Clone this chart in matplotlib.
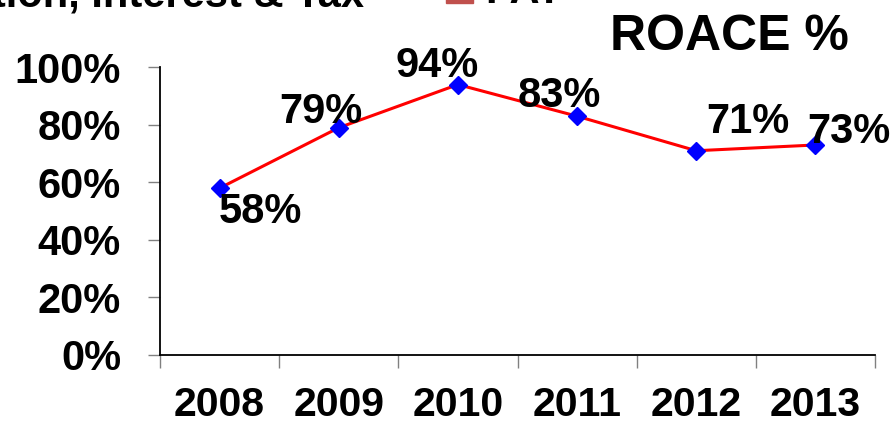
import matplotlib
matplotlib.use("Agg")
import matplotlib.pyplot as plt
from matplotlib.ticker import FixedLocator, PercentFormatter

plt.rcParams['font.family'] = ['Liberation Sans', 'DejaVu Sans']
plt.rcParams['font.weight'] = 'bold'

years = ['2008', '2009', '2010', '2011', '2012', '2013']
roace = [58, 79, 94, 83, 71, 73]
labels = ['58%', '79%', '94%', '83%', '71%', '73%']
# label offsets in pixels (dx, dy) relative to each point
offsets = [(41, -35), (-18, 5), (-21, 8), (-18, 9), (52, 18), (33, 2)]

W, H = 894, 422
fig = plt.figure(figsize=(W / 100, H / 100), dpi=100)
ax = fig.add_axes([160 / W, (H - 355) / H, (875 - 160) / W, (355 - 67.3) / H])

x = range(len(years))
ax.plot(x, roace, color='#FF0000', lw=2.2, marker='D', ms=9,
        mfc='#0000FF', mec='#0000FF', zorder=3, clip_on=False)

for i, (v, lab) in enumerate(zip(roace, labels)):
    ax.annotate(lab, (i, v), xytext=offsets[i], textcoords='offset pixels',
                ha='center', va='baseline', fontsize=30, fontweight='bold')

ax.set_xlim(-0.5, len(years) - 0.5)
ax.set_ylim(0, 100)
ax.yaxis.set_major_locator(FixedLocator([0, 20, 40, 60, 80, 100]))
ax.yaxis.set_major_formatter(PercentFormatter(decimals=0))
ax.set_xticks(list(x))
ax.set_xticklabels(years)
ax.set_xticks([i - 0.5 for i in range(len(years) + 1)], minor=True)

ax.tick_params(axis='x', which='major', length=0, pad=22, labelsize=29.5)
ax.tick_params(axis='x', which='minor', length=9, width=1, color='#808080', direction='out')
ax.tick_params(axis='y', length=9, width=1, color='#808080', direction='out', pad=19, labelsize=30)

for s in ['top', 'right']:
    ax.spines[s].set_visible(False)
for s in ['left', 'bottom']:
    ax.spines[s].set_linewidth(1.3)
    ax.spines[s].set_color('black')

fig.text(610 / W, (H - 50) / H, 'ROACE %', fontsize=36, fontweight='bold',
         ha='left', va='baseline')

# clipped legend remnants from the slide above
fig.text(364 / W, (H - 7) / H, 'Profit before Depreciation, Interest & Tax', fontsize=30,
         fontweight='bold', ha='right', va='baseline')
fig.patches.append(plt.Rectangle((446 / W, (H - 3) / H), 27 / W, 30 / H,
                                 transform=fig.transFigure, color='#C0504D'))
fig.text(485 / W, (H - 3) / H, 'PAT', fontsize=30, fontweight='bold',
         ha='left', va='baseline')

fig.savefig('out.png', dpi=100)
